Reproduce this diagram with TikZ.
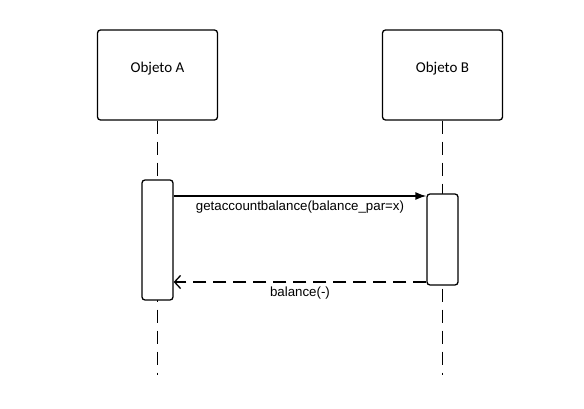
\documentclass[tikz,border=0pt]{standalone}
\usepackage{fontspec}
\setmainfont{Liberation Sans}
\newfontfamily\objfont{Carlito}
\usetikzlibrary{arrows.meta}

\begin{document}
\begin{tikzpicture}[x=1pt,y=-1pt,line width=1.3pt,
obj node/.style = {draw, rounded corners=3pt, minimum width=120pt, minimum height=90pt,
  text height=9pt, text depth=14pt, font=\objfont\fontsize{15}{18}\selectfont},
act node/.style = {draw, fill=white, rounded corners=3pt, minimum width=31pt},
life line/.style = {dash pattern=on 13pt off 8pt},
msg/.style = {font=\fontsize{13.3}{16}\selectfont}]
\useasboundingbox (0,0) rectangle (584,409);
\node[obj node] at (157.5,75) (a) {Objeto A};
\node[obj node] at (442.5,75) (b) {Objeto B};
\coordinate (aend) at (157.5,375);
\coordinate (bend) at (442.5,375);

\draw[life line] (a.south) -- (aend);
\draw[life line] (b.south) -- (bend);

\node[act node,minimum height=120pt] at (157.5,240) (acta) {};
\node[act node,minimum height=91pt] at (442.5,239.5) (actb) {};

\coordinate (call) at (0,196);
\coordinate (ret) at (0,282);
\draw[-{Latex[length=11pt,width=8pt]}] (acta.east |- call) -- (actb.west |- call)
  node[msg,midway,below=1pt] (m1) {getaccountbalance(balance\_par=x)};
\draw[dash pattern=on 13pt off 7pt,-{Straight Barb[length=6pt,width=13pt]}] (actb.west |- ret) -- (acta.east |- ret)
  node[msg,midway,below=1pt] (m2) {balance(-)};
\end{tikzpicture}
\end{document}
